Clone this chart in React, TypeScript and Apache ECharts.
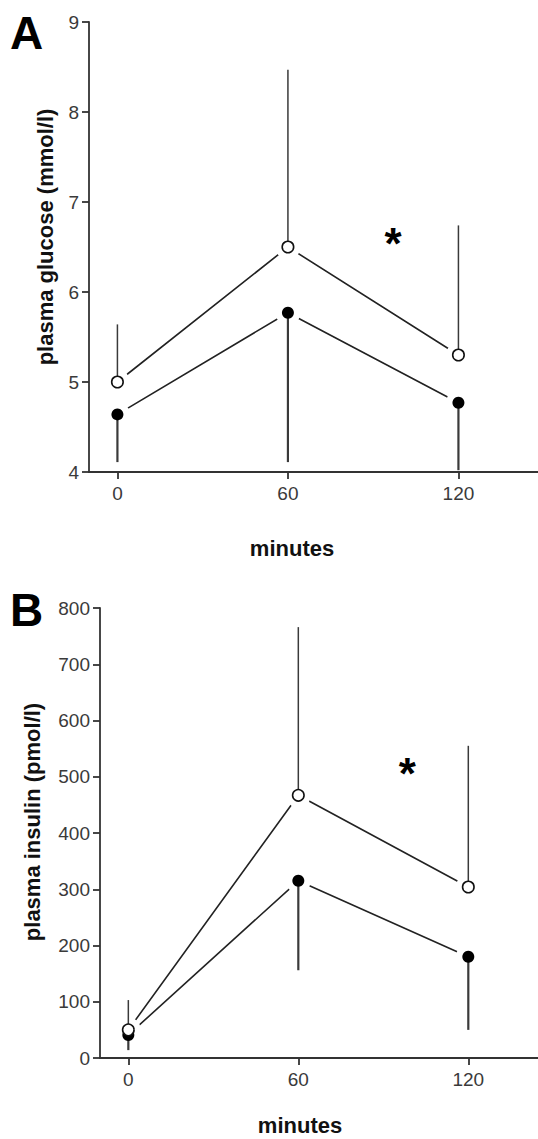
import React, { useEffect, useRef } from "react";
import * as echarts from "echarts";

// ---- data ----
const minutes = [0, 60, 120];
const xTickValues = [0, 60, 120];

const glucoseOpen = [5.0, 6.5, 5.3];
const glucoseOpenUpper = [5.64, 8.47, 6.74];
const glucoseFilled = [4.64, 5.77, 4.77];
const glucoseFilledLower = [4.11, 4.11, 4.02];
const glucoseStar = [97, 6.61];

const insulinOpen = [50, 467, 304];
const insulinOpenUpper = [103, 766, 555];
const insulinFilled = [41, 315, 180];
const insulinFilledLower = [14, 156, 50];
const insulinStar = [98.5, 516];

const FONT = "'Liberation Sans', Arial, Helvetica, sans-serif";

function pts(xs: number[], ys: number[]) {
  return xs.map((x, i) => [x, ys[i]]);
}
function bars(xs: number[], ys: number[], ends: number[]) {
  return xs.map((x, i) => [x, ys[i], ends[i]]);
}

function panelSeries(
  idx: number,
  open: number[],
  openUp: number[],
  filled: number[],
  filledLow: number[],
  star: number[]
) {
  const ax = { xAxisIndex: idx, yAxisIndex: idx };
  const errRender = (width: number) => (params: any, api: any) => {
    const p0 = api.coord([api.value(0), api.value(1)]);
    const p1 = api.coord([api.value(0), api.value(2)]);
    return {
      type: "line",
      shape: { x1: p0[0], y1: p0[1], x2: p1[0], y2: p1[1] },
      style: { stroke: "#3a3a3a", lineWidth: width },
    };
  };
  return [
    {
      type: "line",
      ...ax,
      data: pts(minutes, open),
      showSymbol: false,
      symbol: "none",
      lineStyle: { color: "#222", width: 1.6 },
      z: 2,
    },
    {
      type: "line",
      ...ax,
      data: pts(minutes, filled),
      showSymbol: false,
      symbol: "none",
      lineStyle: { color: "#222", width: 1.6 },
      z: 2,
    },
    {
      type: "scatter",
      ...ax,
      data: [...pts(minutes, open), ...pts(minutes, filled)],
      symbol: "circle",
      symbolSize: 25,
      itemStyle: { color: "#ffffff", opacity: 1 },
      z: 3,
    },
    {
      type: "custom",
      ...ax,
      data: bars(minutes, open, openUp),
      encode: { x: 0, y: [1, 2] },
      renderItem: errRender(1.5),
      z: 4,
    },
    {
      type: "custom",
      ...ax,
      data: bars(minutes, filled, filledLow),
      encode: { x: 0, y: [1, 2] },
      renderItem: errRender(2.2),
      z: 4,
    },
    {
      type: "scatter",
      ...ax,
      data: pts(minutes, filled),
      symbol: "circle",
      symbolSize: 12,
      itemStyle: { color: "#000", opacity: 1 },
      z: 5,
    },
    {
      type: "scatter",
      ...ax,
      data: pts(minutes, open),
      symbol: "circle",
      symbolSize: 11.5,
      itemStyle: { color: "#fff", borderColor: "#111", borderWidth: 1.6, opacity: 1 },
      z: 6,
    },
    {
      type: "scatter",
      ...ax,
      data: [star],
      symbolSize: 0,
      itemStyle: { opacity: 1 },
      label: {
        show: true,
        position: "inside",
        formatter: "*",
        fontFamily: FONT,
        fontWeight: "bold",
        fontSize: 44,
        color: "#000",
        offset: [0, 6],
      },
      z: 6,
    },
  ];
}

function xAxis(gridIndex: number, max: number) {
  return {
    type: "value",
    gridIndex,
    min: -10,
    max,
    splitLine: { show: false },
    axisLine: { show: true, onZero: false, lineStyle: { color: "#333", width: 1.8 } },
    axisTick: {
      show: true,
      customValues: xTickValues,
      length: 7,
      lineStyle: { color: "#333", width: 1.8 },
    },
    axisLabel: {
      customValues: xTickValues,
      margin: 12,
      fontFamily: FONT,
      fontSize: 19,
      color: "#3a3a3a",
    },
  };
}

function yAxis(gridIndex: number, min: number, max: number, interval: number) {
  return {
    type: "value",
    gridIndex,
    min,
    max,
    interval,
    splitLine: { show: false },
    axisLine: { show: true, onZero: false, lineStyle: { color: "#333", width: 1.8 } },
    axisTick: { show: true, length: 7, lineStyle: { color: "#333", width: 1.8 } },
    axisLabel: {
      margin: 10,
      fontFamily: FONT,
      fontSize: 19,
      color: "#3a3a3a",
    },
  };
}

export default function App() {
  const ref = useRef<HTMLDivElement>(null);
  useEffect(() => {
    if (!ref.current) return;
    const chart = echarts.init(ref.current, undefined, { renderer: "svg" });
    const titleFont = `bold 22px ${FONT}`;
    chart.setOption({
      animation: false,
      backgroundColor: "#ffffff",
      grid: [
        { left: 89, top: 22, width: 449, height: 450 },
        { left: 100, top: 608, width: 438, height: 450 },
      ],
      xAxis: [xAxis(0, 148), xAxis(1, 144.6)],
      yAxis: [yAxis(0, 4, 9, 1), yAxis(1, 0, 800, 100)],
      series: [
        ...panelSeries(0, glucoseOpen, glucoseOpenUpper, glucoseFilled, glucoseFilledLower, glucoseStar),
        ...panelSeries(1, insulinOpen, insulinOpenUpper, insulinFilled, insulinFilledLower, insulinStar),
      ],
      graphic: [
        {
          type: "text",
          left: 10,
          top: 10,
          style: { text: "A", font: `bold 46px ${FONT}`, fill: "#000" },
        },
        {
          type: "text",
          left: 10,
          top: 587,
          style: { text: "B", font: `bold 46px ${FONT}`, fill: "#000" },
        },
        {
          type: "text",
          x: 45,
          y: 237,
          rotation: Math.PI / 2,
          style: {
            text: "plasma glucose (mmol/l)",
            font: titleFont,
            fill: "#111",
            align: "center",
            verticalAlign: "middle",
          },
        },
        {
          type: "text",
          x: 32,
          y: 822,
          rotation: Math.PI / 2,
          style: {
            text: "plasma insulin (pmol/l)",
            font: titleFont,
            fill: "#111",
            align: "center",
            verticalAlign: "middle",
          },
        },
        {
          type: "text",
          x: 292,
          y: 548,
          style: {
            text: "minutes",
            font: titleFont,
            fill: "#111",
            align: "center",
            verticalAlign: "middle",
          },
        },
        {
          type: "text",
          x: 300,
          y: 1125,
          style: {
            text: "minutes",
            font: titleFont,
            fill: "#111",
            align: "center",
            verticalAlign: "middle",
          },
        },
      ],
    });
    return () => chart.dispose();
  }, []);
  return (
    <div
      ref={ref}
      style={{ position: "absolute", left: 0, top: 0, width: 538, height: 1139, background: "#fff" }}
    />
  );
}
